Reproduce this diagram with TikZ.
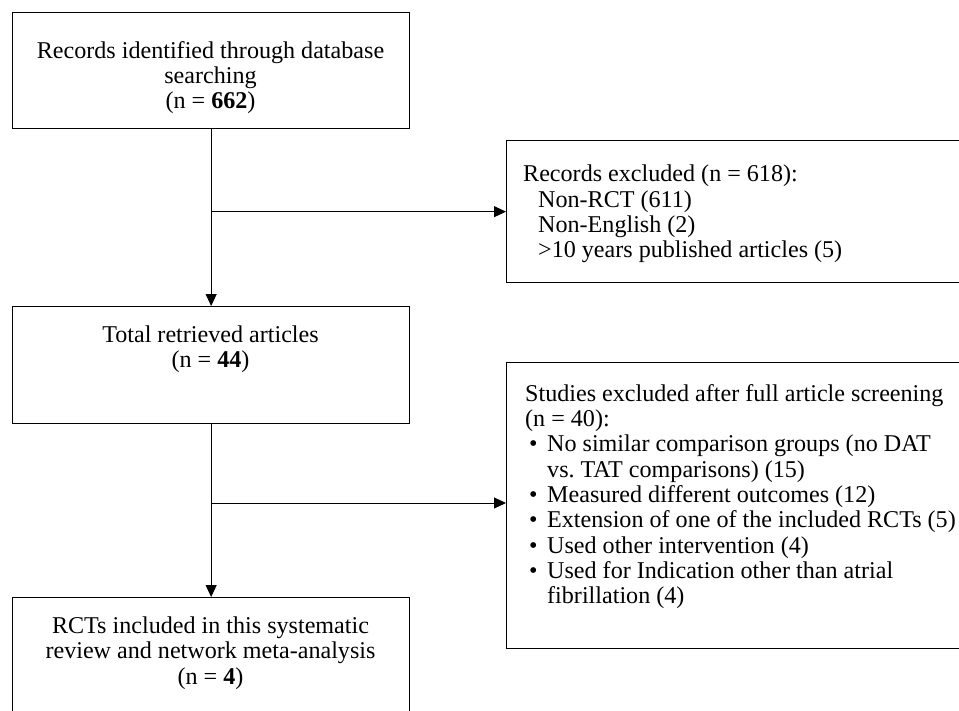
\documentclass[tikz,border=0pt]{standalone}
\usepackage{fontspec}
\setmainfont{Liberation Serif}
\usetikzlibrary{arrows.meta}
\frenchspacing
\newcommand{\bulitem}{\hspace*{4pt}\makebox[18pt][l]{\textbullet}}
\newcommand{\bulcont}{\hspace*{4pt}\makebox[18pt][l]{}}
\tikzset{
  box/.style={draw, line width=1.3pt, inner sep=0pt, anchor=north west},
  txt/.style={inner sep=0pt, font=\fontsize{24.1}{25.3}\selectfont},
  arr/.style={line width=1pt, -{Triangle[length=12pt,width=11pt]}}
}
\begin{document}
\begin{tikzpicture}[x=1pt,y=-1pt]
\useasboundingbox (0,0) rectangle (959,710);
\fill[white] (0,0) rectangle (959,710);
\clip (0,0) rectangle (959,710);
% boxes
\node[box, minimum width=397pt, minimum height=116pt] (b1) at (12,12) {};
\node[box, minimum width=397pt, minimum height=117pt] (b3) at (12,306) {};
\node[box, minimum width=397pt, minimum height=150pt] (b5) at (12,597) {};
\node[box, minimum width=500pt, minimum height=142pt] (b2) at (506,140) {};
\node[box, minimum width=500pt, minimum height=286pt] (b4) at (506,362) {};
% texts
\node[txt, align=center] (t1) at (210.5,77.5) {Records identified through database\\searching\\(n = \textbf{662})};
\node[txt, align=left, anchor=west] (t2) at (523,214) {Records excluded (n = 618):\\
\hspace*{15pt}Non-RCT (611)\\
\hspace*{15pt}Non-English (2)\\
\hspace*{15pt}>10 years published articles (5)};
\node[txt, align=center] (t3) at (210.5,349.5) {Total retrieved articles\\(n = \textbf{44})};
\node[txt, align=left, anchor=west] (t4) at (525,496.5) {Studies excluded after full article screening\\
(n = 40):\\
\bulitem No similar comparison groups (no DAT\\
\bulcont vs.\ TAT comparisons) (15)\\
\bulitem Measured different outcomes (12)\\
\bulitem Extension of one of the included RCTs (5)\\
\bulitem Used other intervention (4)\\
\bulitem Used for Indication other than atrial\\
\bulcont fibrillation (4)};
\node[txt, align=center] (t5) at (210.5,653) {RCTs included in this systematic\\review and network meta-analysis\\(n = \textbf{4})};
% connectors
\coordinate (j1) at (b1.south |- b2.west);
\coordinate (j2) at (210.5,503);
\draw[arr] (b1.south) -- (b3.north);
\draw[arr] (j1) -- (b2.west);
\draw[arr] (b3.south) -- (b5.north);
\draw[arr] (j2) -- (j2 -| b4.west);
\end{tikzpicture}
\end{document}
